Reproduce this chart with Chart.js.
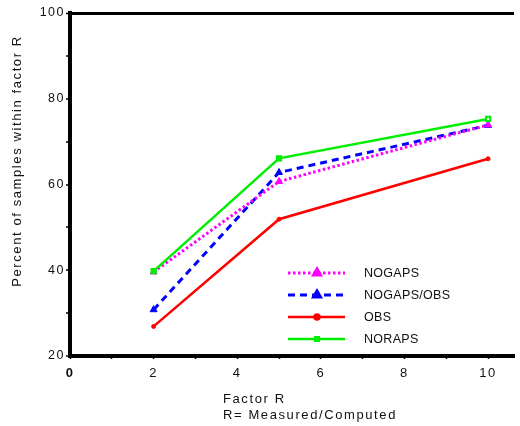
<!DOCTYPE html>
<html>
<head>
<meta charset="utf-8">
<script src="https://cdn.jsdelivr.net/npm/chart.js@4"></script>
<style>
  body { margin: 0; background: #fff; }
  #wrap { width: 520px; height: 426px; }
</style>
</head>
<body>
<div id="wrap"><canvas id="chart"></canvas></div>
<script>
// factor R on the x axis
let factorR = [2, 5, 10];

// percent of samples within factor R
let nogaps    = [39.6, 60.7, 73.9];
let nogapsObs = [30.8, 62.8, 73.8];
let obs       = [26.9, 51.9, 66.0];
let noraps    = [39.8, 66.1, 75.3];

let seriesNames = ["NOGAPS", "NOGAPS/OBS", "OBS", "NORAPS"];
let xTicks = [0, 1, 2, 3, 4, 5, 6, 7, 8, 9, 10];
let yTitle = "Percent of samples within factor R";
let xTitle = ["Factor R", "R= Measured/Computed"];

let FONT = "'Liberation Sans', Arial, sans-serif";

let toPoints = vals => vals.map((v, i) => ({ x: factorR[i], y: v }));

let datasets = [{
    label: seriesNames[0],
    data: toPoints(nogaps),
    borderColor: '#ff00ff',
    backgroundColor: '#ff00ff',
    borderWidth: 3,
    borderDash: [2.5, 2.5],
    pointStyle: 'triangle',
    pointRadius: 4,
    pointBorderWidth: 1,
    order: 1
}, {
    label: seriesNames[1],
    data: toPoints(nogapsObs),
    borderColor: '#0000ff',
    backgroundColor: '#0000ff',
    borderWidth: 3,
    borderDash: [7, 5],
    pointStyle: 'triangle',
    pointRadius: 4,
    pointBorderWidth: 1,
    order: 2
}, {
    label: seriesNames[2],
    data: toPoints(obs),
    borderColor: '#ff0000',
    backgroundColor: '#ff0000',
    borderWidth: 2.5,
    pointStyle: 'circle',
    pointRadius: 2,
    pointBorderWidth: 1,
    order: 3
}, {
    label: seriesNames[3],
    data: toPoints(noraps),
    borderColor: '#00ee00',
    backgroundColor: '#00ee00',
    pointBackgroundColor: ['#00ee00', '#00ee00', '#ffffff'],
    borderWidth: 2.5,
    pointStyle: 'rect',
    pointRadius: 3,
    pointBorderWidth: 2,
    order: 0
}];

// axis titles and the in-plot legend
let extras = {
    id: 'extras',
    beforeDraw(chart) {
        chart.ctx.letterSpacing = '1.5px';
    },
    afterDraw(chart) {
        let ctx = chart.ctx;
        let area = chart.chartArea;
        ctx.save();
        ctx.fillStyle = '#111';
        ctx.font = '13px ' + FONT;
        ctx.textBaseline = 'middle';
        ctx.letterSpacing = '1.6px';

        // y title
        ctx.save();
        ctx.translate(17, 161);
        ctx.rotate(-Math.PI / 2);
        ctx.textAlign = 'center';
        ctx.fillText(yTitle, 0, 0);
        ctx.restore();

        // x title, left aligned block
        ctx.textAlign = 'left';
        ctx.fillText(xTitle[0], 223, 399);
        ctx.fillText(xTitle[1], 223, 415);

        // legend
        ctx.letterSpacing = '0.3px';
        ctx.font = '12.5px ' + FONT;
        let x0 = area.left + 218, y0 = area.bottom - 83;
        chart.data.datasets.forEach((ds, i) => {
            let y = y0 + i * 22;
            ctx.save();
            ctx.strokeStyle = ds.borderColor;
            ctx.lineWidth = ds.borderWidth;
            ctx.setLineDash(ds.borderDash || []);
            ctx.beginPath();
            ctx.moveTo(x0, y);
            ctx.lineTo(x0 + 57, y);
            ctx.stroke();
            ctx.setLineDash([]);
            ctx.fillStyle = ds.backgroundColor;
            ctx.strokeStyle = ds.borderColor;
            Chart.helpers.drawPoint(ctx, {
                pointStyle: ds.pointStyle,
                radius: ds.pointStyle === 'triangle' ? 4 : 2.5,
                rotation: 0,
                borderWidth: 1
            }, x0 + 29, y);
            ctx.restore();
            ctx.fillStyle = '#111';
            ctx.fillText(ds.label, x0 + 76, y + 1);
        });
        ctx.restore();
    }
};

let chart = new Chart('chart', {
    type: 'line',
    data: { datasets: datasets },
    plugins: [extras],
    options: {
        responsive: true,
        maintainAspectRatio: false,
        animation: false,
        layout: { padding: { top: 13, right: 0, bottom: 0, left: 0 } },
        plugins: {
            legend: { display: false },
            tooltip: { enabled: false }
        },
        scales: {
            x: {
                type: 'linear',
                min: 0,
                max: 10.62,
                afterBuildTicks: scale => {
                    scale.ticks = xTicks.map(v => ({ value: v }));
                },
                afterFit: scale => { scale.height = 70; },
                border: { color: '#000', width: 4 },
                grid: {
                    drawOnChartArea: false,
                    tickLength: 3,
                    tickColor: '#000',
                    tickWidth: 1.5
                },
                ticks: {
                    autoSkip: false,
                    maxRotation: 0,
                    padding: 7,
                    color: '#111',
                    font: ctx => ({
                        family: FONT,
                        size: 13,
                        weight: ctx.tick && ctx.tick.value === 0 ? 'bold' : 'normal'
                    }),
                    callback: v => (Math.round(v) % 2 === 0 ? String(Math.round(v)) : '')
                }
            },
            y: {
                min: 20,
                max: 100,
                afterFit: scale => { scale.width = 70; },
                border: { color: '#000', width: 4 },
                grid: {
                    drawOnChartArea: true,
                    color: ctx => (ctx.tick && ctx.tick.value === 100 ? '#000' : 'rgba(0,0,0,0)'),
                    lineWidth: ctx => (ctx.tick && ctx.tick.value === 100 ? 3 : 0),
                    tickColor: '#000',
                    tickLength: 4,
                    tickWidth: 1.5
                },
                ticks: {
                    stepSize: 10,
                    padding: 1,
                    color: '#111',
                    font: { family: FONT, size: 12.5 },
                    callback: v => (v % 20 === 0 ? String(v) : '')
                }
            }
        }
    }
});
</script>
</body>
</html>
